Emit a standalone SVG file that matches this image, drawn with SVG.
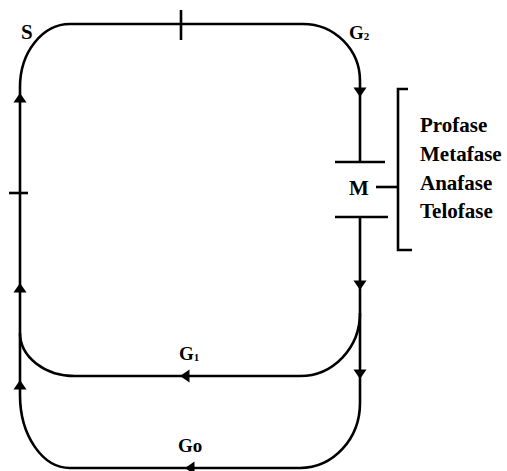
<svg xmlns="http://www.w3.org/2000/svg" width="507" height="471" viewBox="0 0 507 471">
<style>
.ln{fill:none;stroke:#000;stroke-width:2.6}
.ah{fill:#000}
.t{font-family:"Liberation Serif","DejaVu Serif",serif;font-weight:bold;font-size:21px;fill:#000}
.g{font-family:"Liberation Serif","DejaVu Serif",serif;font-weight:bold;font-size:19px;fill:#000}
.sub{font-size:11px}
</style>
<defs>
<path id="arr" d="M0,0 L-6.5,-9.5 L6.5,-9.5 Z"/>
</defs>
<rect width="507" height="471" fill="#fff"/>
<g id="connectors">
<path class="ln" d="M20 395 L20 87 A50 63 0 0 1 70 24 L303 24 A57 57 0 0 1 360 81 L360 162"/>
<path class="ln" d="M360 217 L360 403 A60 65 0 0 1 300 468 L70 468 A50 73 0 0 1 20 395"/>
<path class="ln" d="M360 313 A60 63 0 0 1 300 376 L75 376 A55 43 0 0 1 20 333"/>
<path class="ln" d="M181 10 L181 40"/>
<path class="ln" d="M9 193 L28 193"/>
<path class="ln" d="M335 162 L385 162"/>
<path class="ln" d="M335 217 L388 217"/>
<path class="ln" d="M376 187 L398 187"/>
<path class="ln" d="M408 89 L398 89 L398 250 L412 250"/>
<g class="ah">
<use href="#arr" transform="translate(360,97)"/>
<use href="#arr" transform="translate(360,290)"/>
<use href="#arr" transform="translate(360,379)"/>
<use href="#arr" transform="translate(20,93) rotate(180)"/>
<use href="#arr" transform="translate(20,283) rotate(180)"/>
<use href="#arr" transform="translate(20,380) rotate(180)"/>
<use href="#arr" transform="translate(180,376) rotate(90)"/>
<use href="#arr" transform="translate(185,468) rotate(90)"/>
</g>
</g>
<g id="S"><text class="t" x="21" y="39">S</text></g>
<g id="G2"><text class="g" x="349" y="39">G<tspan class="sub" dy="1">2</tspan></text></g>
<g id="M"><text class="t" x="349" y="195">M</text></g>
<g id="G1"><text class="g" x="179" y="360">G<tspan class="sub" dy="1">1</tspan></text></g>
<g id="G0"><text class="g" x="178" y="452">Go</text></g>
<g id="phases">
<text class="t" x="420" y="132">Profase</text>
<text class="t" x="420" y="161">Metafase</text>
<text class="t" x="420" y="190">Anafase</text>
<text class="t" x="420" y="218">Telofase</text>
</g>
</svg>
